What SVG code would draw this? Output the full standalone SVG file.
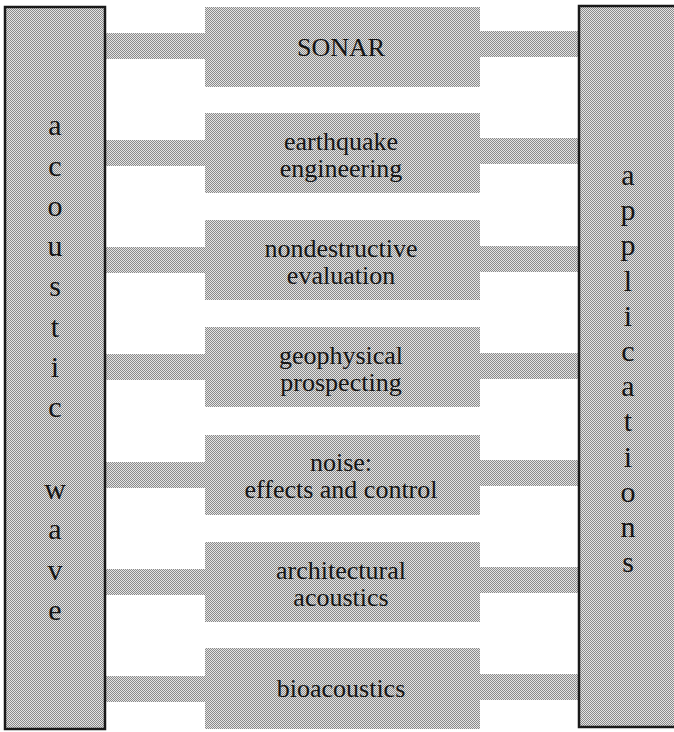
<svg xmlns="http://www.w3.org/2000/svg" width="674" height="732" viewBox="0 0 674 732">
<defs>
<pattern id="dot" width="2" height="2" patternUnits="userSpaceOnUse">
<rect width="2" height="2" fill="#e4e4e4"/>
<rect x="0" y="0" width="1" height="1" fill="#8a8a8a"/>
<rect x="1" y="1" width="1" height="1" fill="#8a8a8a"/>
</pattern>
</defs>
<style>
.box{fill:url(#dot);}
.side{fill:url(#dot);stroke:#1a1a1a;stroke-width:2.5;}
.lbl{font-family:"Liberation Serif","Times New Roman",serif;font-size:26px;fill:#151515;text-anchor:middle;}
.vt{font-family:"Liberation Serif","Times New Roman",serif;font-size:30px;fill:#151515;text-anchor:middle;}
</style>
<rect width="674" height="732" fill="#ffffff"/>
<g id="connectors">
<rect class="box" x="106" y="33" width="100" height="26"/>
<rect class="box" x="106" y="140" width="100" height="26"/>
<rect class="box" x="106" y="247" width="100" height="26"/>
<rect class="box" x="106" y="354" width="100" height="26"/>
<rect class="box" x="106" y="462" width="100" height="26"/>
<rect class="box" x="106" y="569" width="100" height="26"/>
<rect class="box" x="106" y="676" width="100" height="26"/>
<rect class="box" x="479" y="31" width="100" height="26"/>
<rect class="box" x="479" y="138" width="100" height="26"/>
<rect class="box" x="479" y="246" width="100" height="26"/>
<rect class="box" x="479" y="353" width="100" height="26"/>
<rect class="box" x="479" y="460" width="100" height="26"/>
<rect class="box" x="479" y="567" width="100" height="26"/>
<rect class="box" x="479" y="674" width="100" height="26"/>
</g>
<g id="acoustic-wave">
<rect class="side" x="5" y="7" width="100" height="722"/>
<text class="vt" x="55" y="135">a</text>
<text class="vt" x="55" y="176">c</text>
<text class="vt" x="55" y="216">o</text>
<text class="vt" x="55" y="256">u</text>
<text class="vt" x="55" y="296">s</text>
<text class="vt" x="55" y="337">t</text>
<text class="vt" x="55" y="377">i</text>
<text class="vt" x="55" y="417">c</text>
<text class="vt" x="55" y="499">w</text>
<text class="vt" x="55" y="539">a</text>
<text class="vt" x="55" y="580">v</text>
<text class="vt" x="55" y="620">e</text>
</g>
<g id="applications">
<rect class="side" x="579" y="6" width="100" height="721"/>
<text class="vt" x="628" y="185">a</text>
<text class="vt" x="628" y="220">p</text>
<text class="vt" x="628" y="255">p</text>
<text class="vt" x="628" y="291">l</text>
<text class="vt" x="628" y="326">i</text>
<text class="vt" x="628" y="361">c</text>
<text class="vt" x="628" y="396">a</text>
<text class="vt" x="628" y="431">t</text>
<text class="vt" x="628" y="467">i</text>
<text class="vt" x="628" y="502">o</text>
<text class="vt" x="628" y="537">n</text>
<text class="vt" x="628" y="572">s</text>
</g>
<g id="sonar">
<rect class="box" x="205" y="7" width="275" height="80"/>
<text class="lbl" x="341" y="56">SONAR</text>
</g>
<g id="earthquake-engineering">
<rect class="box" x="205" y="113" width="275" height="80"/>
<text class="lbl" x="341" y="150">earthquake</text>
<text class="lbl" x="341" y="177">engineering</text>
</g>
<g id="nondestructive-evaluation">
<rect class="box" x="205" y="220" width="275" height="80"/>
<text class="lbl" x="341" y="257">nondestructive</text>
<text class="lbl" x="341" y="284">evaluation</text>
</g>
<g id="geophysical-prospecting">
<rect class="box" x="205" y="327" width="275" height="80"/>
<text class="lbl" x="341" y="364">geophysical</text>
<text class="lbl" x="341" y="391">prospecting</text>
</g>
<g id="noise">
<rect class="box" x="205" y="435" width="275" height="80"/>
<text class="lbl" x="341" y="471">noise:</text>
<text class="lbl" x="341" y="498">effects and control</text>
</g>
<g id="architectural-acoustics">
<rect class="box" x="205" y="542" width="275" height="80"/>
<text class="lbl" x="341" y="579">architectural</text>
<text class="lbl" x="341" y="606">acoustics</text>
</g>
<g id="bioacoustics">
<rect class="box" x="205" y="648" width="275" height="81"/>
<text class="lbl" x="341" y="697">bioacoustics</text>
</g>
</svg>
